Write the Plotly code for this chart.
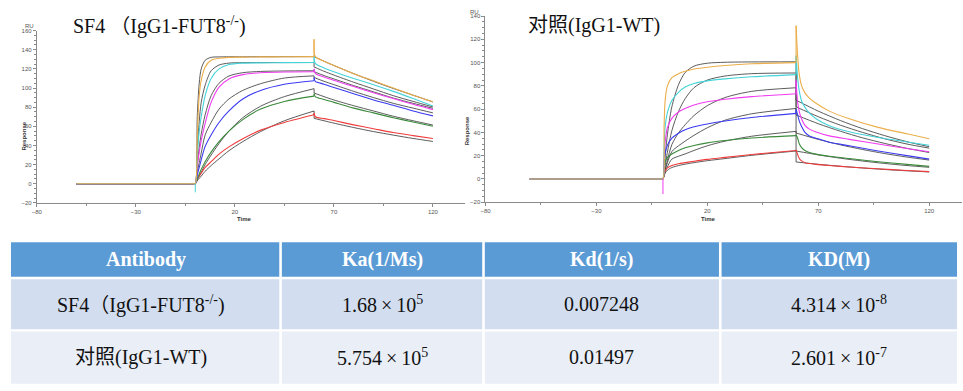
import plotly.graph_objects as go

# ---------------- data ----------------
BASE_T = [-60, -1]
BASE_V = [0, 0]
DIP_T = [0, 0]
L_DIP = [0, -9]
R_DIP = [0, -13]

# Left panel: SF4 (IgG1-FUT8-/-)
L_TA = [0, 1, 2, 3, 5, 8, 12, 17, 24, 33, 45, 60]
L_TD = [60, 60.6, 65, 70, 80, 90, 100, 110, 120]
L_TDF = [60, 65, 70, 80, 90, 100, 110, 120]

L_ORANGE_A = [0, 50, 92, 108, 122, 129, 131, 132, 132.3, 132.5, 132.6, 132.8]
L_ORANGE_D = [151, 133, 128, 123.5, 115, 107.5, 100, 92.5, 85.6]
L_CYAN_A = [0, 30, 55, 70, 92, 110, 120, 124.5, 126, 126.3, 126.5, 126.6]
L_CYAN_D = [134, 125.7, 121, 117, 110, 103.5, 96.5, 89, 81.2]
L_MAGENTA_A = [0, 18, 33, 45, 63, 85, 101, 109.5, 114, 116, 116.8, 117]
L_MAGENTA_D = [120, 115.4, 111.5, 108, 101.5, 95, 89, 83, 77.4]
L_BLUE_A = [0, 9, 17, 25, 39, 51, 64, 76, 88.5, 97.5, 104, 107.6]
L_BLUE_D = [111, 107, 104, 100.5, 94, 87.5, 82, 76, 70.9]
L_GREEN_A = [0, 5, 10, 15, 23, 33, 44, 55, 67, 78, 86, 91.5]
L_GREEN_D = [94, 91, 88, 85, 79, 74, 69, 64.5, 60]
L_RED_A = [0, 5, 8, 11, 17, 23, 31, 38.5, 47, 56, 64, 72]
L_RED_D = [74, 70, 68, 66, 61.5, 57.5, 53.5, 50.3, 47.3]

L_FIT_ORANGE_A = [0, 70, 105, 120, 129, 132, 132.5, 132.6, 132.6, 132.7, 132.7, 132.8]
L_FIT_ORANGE_D = [132.8, 128, 123.5, 115, 107, 99.5, 92.5, 85.5]
L_FIT_CYAN_A = [0, 35, 65, 85, 103, 118, 124, 126, 126.5, 126.6, 126.6, 126.6]
L_FIT_CYAN_D = [122, 117.5, 113.5, 106, 99, 92, 86, 80.2]
L_FIT_MAGENTA_A = [0, 20, 38, 52, 72, 92, 105, 112.5, 116, 117.3, 117.8, 118]
L_FIT_MAGENTA_D = [117, 113, 109.5, 102.5, 96, 89.5, 84, 78.8]
L_FIT_BLUE_A = [0, 12, 22, 32, 51, 64, 78, 88.5, 97.5, 104.5, 110.4, 112.7]
L_FIT_BLUE_D = [111, 107, 103.5, 96.5, 90, 84, 79, 74]
L_FIT_GREEN_A = [0, 4, 8, 12, 20, 30, 42, 55, 69, 81, 91, 99.3]
L_FIT_GREEN_D = [94.7, 91, 87.5, 81.5, 76, 70.5, 65.8, 61.3]
L_FIT_RED_A = [0, 3, 5.5, 8, 13, 19, 26, 34.5, 44, 54.5, 65.8, 76]
L_FIT_RED_D = [68.3, 65.8, 63.3, 58.7, 54.5, 50.8, 47.3, 44.2]

# Right panel: 对照 (IgG1-WT)
R_TA = [0, 0.5, 1, 2, 4, 7, 10, 14, 20, 28, 40, 60]
R_TD = [60, 60.7, 61.5, 62.5, 64, 66, 69, 75, 84, 97, 110, 120]
R_TDF = [60, 70, 80, 90, 100, 110, 120]

R_ORANGE_A = [0, 45, 68, 80, 87, 90.5, 92.5, 94.5, 96, 97.5, 99, 100]
R_ORANGE_D = [131.8, 106, 89, 80, 74, 69.5, 65, 58.3, 51.7, 44.3, 38.8, 34.6]
R_CYAN_A = [0, 28, 45, 57, 67.5, 74.5, 79, 82, 84.3, 86, 87.8, 89.7]
R_CYAN_D = [106, 87, 75, 67, 61.5, 56.5, 51.8, 45.8, 40.5, 35.6, 31.8, 29]
R_MAGENTA_A = [0, 20, 32, 44, 52, 57.5, 60.5, 63.5, 66.3, 68.5, 70.8, 73.3]
R_MAGENTA_D = [84.7, 66, 57.5, 51.5, 46, 42.8, 40.3, 37, 34, 30, 26.2, 23.4]
R_BLUE_A = [0, 14, 22, 29, 35, 39.3, 42.3, 44.8, 47.3, 49.8, 52.8, 56.4]
R_BLUE_D = [60, 55, 49.5, 45, 40, 37, 35, 31.5, 28.5, 24, 20, 17]
R_GREEN_A = [0, 9, 15, 18.5, 21.5, 24.5, 26.8, 28.8, 31, 33, 35.2, 37.2]
R_GREEN_D = [38, 35, 30, 27, 24.5, 22.8, 21.3, 19.5, 17.5, 14.8, 12.5, 10.8]
R_RED_A = [0, 4.5, 7, 9.5, 11.5, 13, 14, 15.2, 16.8, 18.5, 21, 24.5]
R_RED_D = [25, 21, 17.5, 15.5, 14, 13.2, 12.5, 11.5, 10.3, 8.7, 7.3, 6.3]

R_FIT_ORANGE_A = [0, 10, 20, 38, 62, 81, 91.5, 97, 99.5, 100.3, 100.6, 100.7]
R_FIT_ORANGE_D = [67.7, 58.3, 50.2, 43.2, 37.2, 32, 27.7]
R_FIT_CYAN_A = [0, 6, 12, 23, 41.5, 58, 69, 78.5, 85, 88.5, 90.5, 91.1]
R_FIT_CYAN_D = [62, 53.5, 46.2, 40, 34.5, 30, 26.5]
R_FIT_MAGENTA_A = [0, 4, 8, 16, 29.5, 39.5, 46.6, 54.5, 63, 70, 75.3, 78.4]
R_FIT_MAGENTA_D = [55, 47.5, 41, 35.3, 30.5, 26.3, 22.7]
R_FIT_BLUE_A = [0, 4, 8, 14, 23.5, 28.5, 32.5, 37.5, 44, 50.5, 56, 60.6]
R_FIT_BLUE_D = [39.5, 34, 29.3, 25.3, 21.8, 18.8, 16.2]
R_FIT_GREEN_A = [0, 3, 6, 10.5, 17, 19.5, 21.5, 24.5, 28.5, 32.5, 36.7, 40.9]
R_FIT_GREEN_D = [24, 20.7, 17.8, 15.4, 13.3, 11.5, 10]
R_FIT_RED_A = [0, 2.5, 5, 7.5, 9.8, 11.5, 12.7, 14, 15.7, 17.5, 20.3, 24]
R_FIT_RED_D = [14.6, 12.6, 10.9, 9.4, 8.1, 7, 6]

# Titles and table
LEFT_TITLE = "SF4 （IgG1-FUT8<sup>-/-</sup>)"
RIGHT_TITLE = "对照(IgG1-WT)"
TABLE_HEADER = ["Antibody", "Ka(1/Ms)", "Kd(1/s)", "KD(M)"]
ANTIBODY = ["SF4（IgG1-FUT8<sup>-/-</sup>)", "对照(IgG1-WT)"]
KA = ["1.68\u2009×\u200910<sup>5</sup>", "5.754\u2009×\u200910<sup>5</sup>"]
KD_OFF = ["0.007248", "0.01497"]
KD_EQ = ["4.314\u2009×\u200910<sup>-8</sup>", "2.601\u2009×\u200910<sup>-7</sup>"]

# ---------------- styling ----------------
W, H = 963, 391
ORANGE = "#EBAE4A"
CYAN = "#45D3D8"
MAGENTA = "#F03CF0"
BLUE = "#3B3BF2"
GREEN = "#3C8A3C"
RED = "#F03C3C"
FIT = "#4A4A4A"
AX = "#8a8a8a"
SERIF = "Liberation Serif, Times New Roman, Noto Sans CJK SC, serif"
SANS = "Liberation Sans, Arial, sans-serif"


def px(x):
    return x / W


def py(y):
    return 1 - y / H


fig = go.Figure()


def add_curve(xa, ya, ta, a_vals, td, d_vals, color, width=1.1):
    x = BASE_T + ta + [None, ta[-1], td[0], None] + td
    y = BASE_V + a_vals + [None, a_vals[-1], d_vals[0], None] + d_vals
    fig.add_trace(go.Scatter(
        x=x, y=y, mode="lines", connectgaps=False, hoverinfo="skip",
        line=dict(color=color, width=width, shape="spline", smoothing=0.8),
        xaxis=xa, yaxis=ya, showlegend=False))


left_fits = [L_FIT_RED_A, L_FIT_GREEN_A, L_FIT_BLUE_A, L_FIT_MAGENTA_A, L_FIT_CYAN_A, L_FIT_ORANGE_A]
left_fits_d = [L_FIT_RED_D, L_FIT_GREEN_D, L_FIT_BLUE_D, L_FIT_MAGENTA_D, L_FIT_CYAN_D, L_FIT_ORANGE_D]
left_meas = [L_RED_A, L_GREEN_A, L_BLUE_A, L_MAGENTA_A, L_CYAN_A, L_ORANGE_A]
left_meas_d = [L_RED_D, L_GREEN_D, L_BLUE_D, L_MAGENTA_D, L_CYAN_D, L_ORANGE_D]
right_fits = [R_FIT_RED_A, R_FIT_GREEN_A, R_FIT_BLUE_A, R_FIT_MAGENTA_A, R_FIT_CYAN_A, R_FIT_ORANGE_A]
right_fits_d = [R_FIT_RED_D, R_FIT_GREEN_D, R_FIT_BLUE_D, R_FIT_MAGENTA_D, R_FIT_CYAN_D, R_FIT_ORANGE_D]
right_meas = [R_RED_A, R_GREEN_A, R_BLUE_A, R_MAGENTA_A, R_CYAN_A, R_ORANGE_A]
right_meas_d = [R_RED_D, R_GREEN_D, R_BLUE_D, R_MAGENTA_D, R_CYAN_D, R_ORANGE_D]
colors = [RED, GREEN, BLUE, MAGENTA, CYAN, ORANGE]

# fitted curves first, measured (coloured) curves on top
for a, d in zip(left_fits, left_fits_d):
    add_curve("x", "y", L_TA, a, L_TDF, d, FIT, 0.9)
for c, a, d in zip(colors, left_meas, left_meas_d):
    add_curve("x", "y", L_TA, a, L_TD, d, c)
for a, d in zip(right_fits, right_fits_d):
    add_curve("x2", "y2", R_TA, a, R_TDF, d, FIT, 0.9)
for c, a, d in zip(colors, right_meas, right_meas_d):
    add_curve("x2", "y2", R_TA, a, R_TD, d, c)

fig.add_trace(go.Scatter(x=DIP_T, y=L_DIP, mode="lines", line=dict(color=CYAN, width=1),
                         xaxis="x", yaxis="y", hoverinfo="skip", showlegend=False))
fig.add_trace(go.Scatter(x=DIP_T, y=R_DIP, mode="lines", line=dict(color=MAGENTA, width=1),
                         xaxis="x2", yaxis="y2", hoverinfo="skip", showlegend=False))

common = dict(showline=True, linecolor=AX, linewidth=1, ticks="outside", ticklen=3,
              tickcolor=AX, tickfont=dict(family=SANS, size=6, color="#555"),
              showgrid=False, zeroline=False, fixedrange=True)
xcommon = dict(common, tickmode="linear", tick0=-80, dtick=50,
               minor=dict(ticks="outside", ticklen=2, tick0=-80, dtick=25, tickcolor=AX))
ycommon = dict(common, tickmode="linear", tick0=-20, dtick=20,
               minor=dict(ticks="outside", ticklen=2, tick0=-20, dtick=5, tickcolor=AX))

fig.update_layout(
    width=W, height=H, margin=dict(l=0, r=0, t=0, b=0),
    paper_bgcolor="white", plot_bgcolor="white", showlegend=False,
    xaxis=dict(xcommon, domain=[px(32), px(462)], range=[-80, 136], anchor="y"),
    yaxis=dict(ycommon, domain=[py(203), py(28)], range=[-20, 160], anchor="x"),
    xaxis2=dict(xcommon, domain=[px(483), px(962)], range=[-80, 134.8], anchor="y2"),
    yaxis2=dict(ycommon, domain=[py(202.3), py(13.3)], range=[-20, 140], anchor="x2"),
)

ann = []
small_bold = dict(family=SANS, size=6, color="#333")
ann.append(dict(text=LEFT_TITLE, x=px(66), y=py(23), xref="paper", yref="paper",
                xanchor="left", yanchor="middle", showarrow=False,
                font=dict(family=SERIF, size=20, color="#111")))
ann.append(dict(text=RIGHT_TITLE, x=px(524), y=py(23), xref="paper", yref="paper",
                xanchor="left", yanchor="middle", showarrow=False,
                font=dict(family=SERIF, size=20, color="#111")))
for (rx, ry) in [(18, 18), (472, 4)]:
    ann.append(dict(text="RU", x=px(rx), y=py(ry), xref="paper", yref="paper",
                    showarrow=False, font=dict(family=SANS, size=6, color="#555")))
for (rx, ry) in [(14, 118), (464, 113)]:
    ann.append(dict(text="<b>Response</b>", x=px(rx), y=py(ry), xref="paper", yref="paper",
                    textangle=-90, showarrow=False, font=small_bold))
for (rx, ry) in [(231, 219), (717, 219)]:
    ann.append(dict(text="<b>Time</b>", x=px(rx), y=py(ry), xref="paper", yref="paper",
                    showarrow=False, font=small_bold))

# ---------------- table ----------------
COL_EDGES = [6, 277, 481, 719, 957]
ROW_BANDS = [(243, 278), (280.5, 331.3), (333.5, 386.7)]
ROW_FILLS = ["#5B9BD5", "#D2DEEF", "#E9EEF7"]
GAP = 1.3
shapes = []
for ri, (y0, y1) in enumerate(ROW_BANDS):
    for ci in range(4):
        x0 = COL_EDGES[ci] + (GAP if ci > 0 else 0)
        x1 = COL_EDGES[ci + 1] - (GAP if ci < 3 else 0)
        shapes.append(dict(type="rect", xref="paper", yref="paper",
                           x0=px(x0), x1=px(x1), y0=py(y1), y1=py(y0),
                           fillcolor=ROW_FILLS[ri], line=dict(width=0), layer="below"))

centers = [(COL_EDGES[i] + COL_EDGES[i + 1]) / 2 for i in range(4)]
for ci, t in enumerate(TABLE_HEADER):
    ann.append(dict(text="<b>" + t + "</b>", x=px(centers[ci]), y=py(260.5), xref="paper", yref="paper",
                    showarrow=False, xanchor="center", yanchor="middle",
                    font=dict(family=SERIF, size=20, color="white")))
row_y = [306, 360]
for ri in range(2):
    vals = [ANTIBODY[ri], KA[ri], KD_OFF[ri], KD_EQ[ri]]
    for ci, t in enumerate(vals):
        cx = centers[ci] - (5 if ci == 0 else 0)
        ann.append(dict(text=t, x=px(cx), y=py(row_y[ri]), xref="paper", yref="paper",
                        showarrow=False, xanchor="center", yanchor="middle",
                        font=dict(family=SERIF, size=20, color="#111")))

fig.update_layout(annotations=ann, shapes=shapes)
fig.write_html("out.html", config={"displayModeBar": False},
               post_script="document.body.style.margin='0px';document.body.style.overflow='hidden';")
